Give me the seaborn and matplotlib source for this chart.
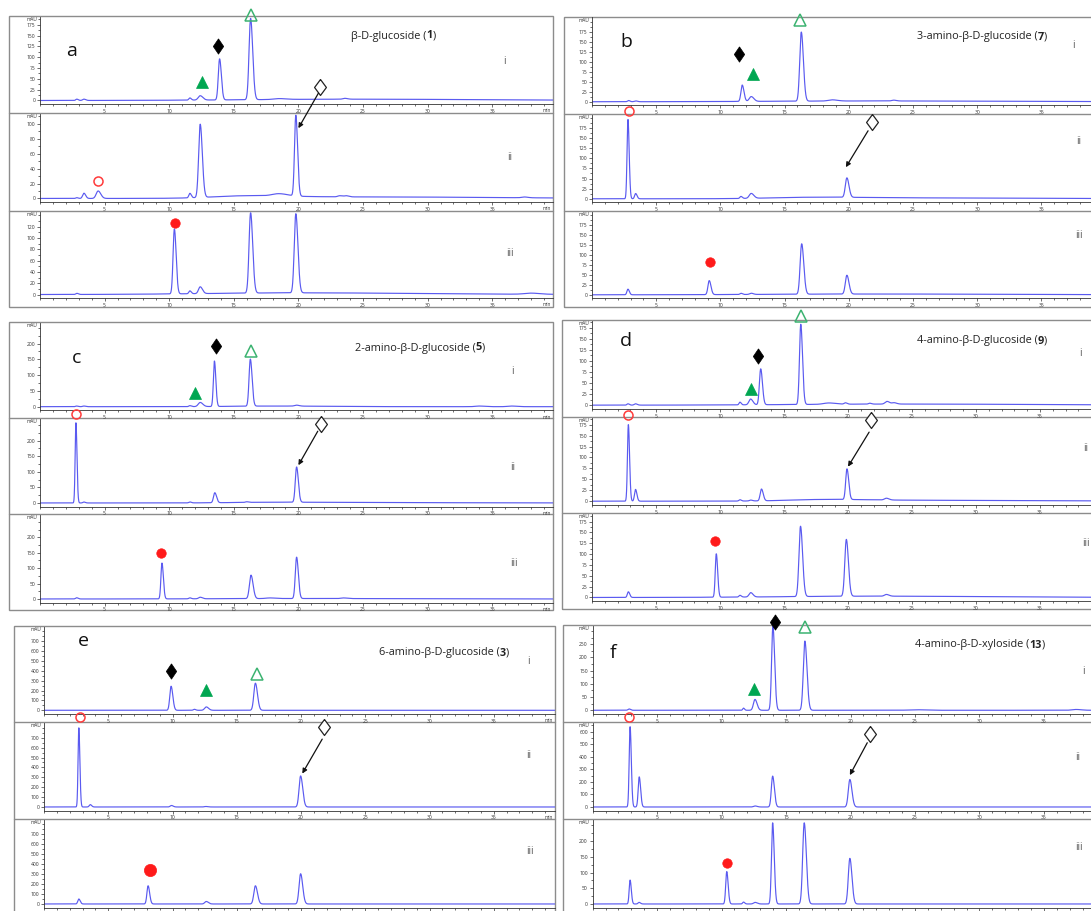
import numpy as np
import seaborn as sns
import matplotlib.pyplot as plt
from matplotlib.patches import Rectangle
from matplotlib.lines import Line2D
from matplotlib.ticker import FixedLocator, MultipleLocator

# HPLC traces, one list per trace: (retention time / min, height / mAU, width / min)
# rows i, ii, iii of each panel
a1 = [(2.85, 3, .08), (3.4, 3, .1), (11.6, 5, .08), (12.4, 10, .15), (13.9, 95, .1),
      (16.3, 188, .12), (18.5, 2, .4), (23.6, 2, .15), (24, 3, 8)]
a2 = [(2.85, 1, .08), (3.4, 7, .1), (4.5, 10, .15), (11.6, 6, .08), (12.4, 98, .12),
      (18.5, 3, .5), (19.8, 108, .1), (16, 3, 2.5), (26, 2, 7), (23.2, 1.5, .15),
      (23.7, 1.5, .15), (37.5, 1, .2)]
a3 = [(2.85, 2, .08), (10.4, 115, .1), (11.6, 5, .08), (12.4, 12, .13), (16.3, 142, .12),
      (19.8, 140, .12), (20, 3, 7), (38, 2, .5)]

b1 = [(2.85, 3, .08), (3.4, 2, .1), (11.7, 41, .1), (12.4, 12, .15), (16.3, 173, .12),
      (18.7, 3, .3), (23.5, 2, .15), (22, 2, 8)]
b2 = [(2.8, 196, .07), (3.4, 13, .08), (11.6, 5, .08), (12.4, 12, .15), (19.85, 48, .12),
      (17, 3, 3), (26, 2, 7)]
b3 = [(2.8, 14, .08), (9.13, 35, .1), (11.6, 3, .08), (12.4, 3, .12), (16.33, 126, .12),
      (19.85, 47, .12), (22, 2, 8)]

c1 = [(2.83, 2, .08), (3.4, 2, .1), (11.6, 3, .08), (12.4, 13, .15), (13.5, 144, .08),
      (16.28, 149, .1), (19.86, 3, .15), (18, 2, 3), (34, 2, .3), (36.5, 2, .3)]
c2 = [(2.78, 257, .06), (3.4, 3, .08), (11.6, 3, .08), (13.53, 32, .1), (16.0, 2, .1),
      (19.86, 113, .1), (18, 2, 3), (26, 1, 6)]
c3 = [(2.83, 4, .08), (9.44, 116, .08), (11.6, 3, .08), (12.4, 5, .12), (16.33, 76, .12),
      (19.86, 134, .1), (17.8, 2, .3), (23.5, 2, .2), (20, 1.5, 6)]

d1 = [(2.81, 3, .08), (3.4, 3, .1), (11.56, 6, .07), (12.39, 13, .13), (13.18, 81, .1),
      (16.31, 181, .1), (18.5, 3, .4), (19.8, 3, .1), (21.7, 2, .1), (23.05, 6, .15),
      (23.6, 3, .15), (24, 2.5, 8)]
d2 = [(2.84, 175, .07), (3.4, 27, .08), (11.56, 3, .08), (12.4, 2, .1), (13.24, 27, .1),
      (19.92, 70, .1), (23.0, 4, .15), (18, 3, 2.5), (26, 2, 7)]
d3 = [(2.84, 13, .08), (9.71, 100, .08), (11.56, 4, .08), (12.4, 10, .13), (16.29, 162, .12),
      (19.87, 131, .12), (23.0, 4, .15), (22, 3, 7)]

e1 = [(9.89, 243, .1), (11.7, 10, .08), (12.63, 34, .13), (16.45, 274, .12)]
e2 = [(2.71, 800, .06), (3.6, 24, .08), (9.92, 15, .1), (12.6, 5, .12), (19.97, 314, .12)]
e3 = [(2.71, 50, .08), (8.1, 183, .09), (12.63, 25, .12), (16.45, 183, .12), (19.97, 304, .12)]

f1 = [(2.82, 5, .08), (11.7, 8, .06), (12.59, 41, .12), (13.98, 318, .1), (16.46, 262, .12),
      (25, 2, .5), (37.5, 3, .3)]
f2 = [(2.9, 640, .07), (3.61, 240, .08), (12.6, 8, .12), (13.96, 246, .1), (19.95, 219, .12)]
f3 = [(2.9, 76, .07), (3.6, 5, .08), (10.4, 103, .08), (11.7, 6, .07), (12.6, 5, .12),
      (13.96, 258, .09), (16.41, 258, .12), (19.95, 145, .12)]

# y-axis top value and (tick step, last labelled tick) per row
a_ytop, a_ticks = [193, 113, 146], [(25, 175), (20, 100), (20, 120)]
b_ytop, b_ticks = [211, 207, 207], [(25, 175)] * 3
c_ytop, c_ticks = [266, 270, 272], [(50, 200)] * 3
d_ytop, d_ticks = [190, 191, 193], [(25, 175)] * 3
e_ytop, e_ticks = [845, 846, 845], [(100, 700)] * 3
f_ytop, f_ticks = [319, 667, 267], [(50, 250), (100, 600), (50, 200)]

# peak symbols: (row, symbol, time, mAU); arrow: (row, t, mAU) tail -> (row, t, mAU) head
a_marks = [(0, 'tri', 12.55, 43), (0, 'dia', 13.75, 127), (0, 'otri', 16.3, 198),
           (0, 'odia', 21.7, 32), (1, 'ocirc', 4.5, 24), (2, 'circ', 10.45, 127)]
a_arrow = ((0, 21.55, 17), (1, 20.0, 94))
b_marks = [(0, 'dia', 11.45, 120), (0, 'tri', 12.55, 70), (0, 'otri', 16.2, 205),
           (1, 'ocirc', 2.9, 217), (1, 'odia', 21.8, 189), (2, 'circ', 9.2, 81)]
b_arrow = ((1, 21.5, 168), (1, 19.77, 78))
c_marks = [(0, 'tri', 12.03, 44), (0, 'dia', 13.6, 193), (0, 'otri', 16.3, 175),
           (1, 'ocirc', 2.75, 284), (1, 'odia', 21.72, 252), (2, 'circ', 9.36, 150)]
c_arrow = ((1, 21.5, 230), (1, 20.0, 121))
d_marks = [(0, 'otri', 16.29, 202), (0, 'dia', 13.0, 111), (0, 'tri', 12.44, 37),
           (1, 'ocirc', 2.84, 198), (1, 'odia', 21.8, 185), (2, 'circ', 9.63, 129)]
d_arrow = ((1, 21.65, 158), (1, 20.0, 79))
e_marks = [(0, 'dia', 9.92, 396), (0, 'tri', 12.63, 203), (0, 'otri', 16.6, 362),
           (1, 'ocirc', 2.82, 910), (1, 'odia', 21.79, 805), (2, 'bigcirc', 8.27, 345)]
e_arrow = ((1, 21.65, 686), (1, 20.1, 338))
f_marks = [(0, 'dia', 14.14, 336), (0, 'otri', 16.46, 314), (0, 'tri', 12.5, 81),
           (1, 'ocirc', 2.85, 720), (1, 'odia', 21.48, 582), (2, 'circ', 10.4, 129)]
f_arrow = ((1, 21.3, 512), (1, 19.95, 254))

# titles: (text, compound number)
a_title = ("β-D-glucoside (", "1")
b_title = ("3-amino-β-D-glucoside (", "7")
c_title = ("2-amino-β-D-glucoside (", "5")
d_title = ("4-amino-β-D-glucoside (", "9")
e_title = ("6-amino-β-D-glucoside (", "3")
f_title = ("4-amino-β-D-xyloside (", "13")
roman = ["i", "ii", "iii"]

W, H = 1091, 911
sns.set_theme(style="white")
plt.rcParams['font.family'] = ['Open Sans', 'DejaVu Sans']

fig = plt.figure(figsize=(W / 100, H / 100), dpi=100)
fig.patch.set_facecolor('white')


def fx(x):
    return x / W


def fy(y):
    return 1 - y / H


t = np.linspace(0, 42, 8000)


def trace(peaks):
    y = np.zeros_like(t)
    for rt, h, s in peaks:
        sd = np.where(t < rt, s, s * 1.35)
        y += h * np.exp(-0.5 * ((t - rt) / sd) ** 2)
    return y


DIA = [(0, 1), (0.68, 0), (0, -1), (-0.68, 0), (0, 1)]
ODIA = [(0, 1), (0.74, 0), (0, -1), (-0.74, 0), (0, 1)]
STY = {
    'dia': dict(marker=DIA, ms=11, mfc='black', mec='black', mew=0.5),
    'odia': dict(marker=ODIA, ms=11.5, mfc='white', mec='#222222', mew=0.9),
    'tri': dict(marker='^', ms=8, mfc='#00a651', mec='#00a651', mew=0.5),
    'otri': dict(marker='^', ms=8, mfc='none', mec='#3cb371', mew=1.1),
    'ocirc': dict(marker='o', ms=6.5, mfc='none', mec='#ff3b3b', mew=1.1),
    'circ': dict(marker='o', ms=6.8, mfc='#ff1a1a', mec='#ff1a1a', mew=0.5),
    'bigcirc': dict(marker='o', ms=8.8, mfc='#ff1a1a', mec='#ff1a1a', mew=0.5),
}
GREY = '#8c8c8c'
LINE = '#5a5af0'


def draw_panel(frame, rows, yaxis, ppm, off, traces, ytops, ticks, marks, arrow,
               letter, letter_xy, title, title_xy, roman_xy):
    x0, y0, x1, y1 = frame
    fig.add_artist(Rectangle((fx(x0), fy(y1)), fx(x1) - fx(x0), fy(y0) - fy(y1),
                             fill=False, ec=GREY, lw=1.0, transform=fig.transFigure, zorder=-1))
    for yb in rows[1:3]:
        fig.add_artist(Line2D([fx(x0), fx(x1)], [fy(yb), fy(yb)], color=GREY, lw=1.0,
                              transform=fig.transFigure, zorder=-1))
    axes = []
    for i in range(3):
        top = rows[i] + 1
        bot = rows[i + 1] - off
        ax = fig.add_axes([fx(yaxis), fy(bot), fx(x1) - fx(yaxis), (bot - top) / H])
        ax.set_facecolor('none')
        xmax = (x1 - yaxis) / ppm
        sns.lineplot(x=t, y=trace(traces[i]), ax=ax, color=LINE, linewidth=0.85,
                     estimator=None, sort=False)
        ax.set_xlim(0, xmax)
        ax.set_ylim(-0.042 * ytops[i], ytops[i])
        ax.set(xlabel='', ylabel='')
        for s in ['top', 'right']:
            ax.spines[s].set_visible(False)
        for s in ['left', 'bottom']:
            ax.spines[s].set_color('#333333')
            ax.spines[s].set_linewidth(0.6)
        xt = list(range(5, 40, 5))
        ax.xaxis.set_major_locator(FixedLocator(xt))
        ax.set_xticklabels([str(v) for v in xt])
        ax.xaxis.set_minor_locator(MultipleLocator(1))
        step, tmax = ticks[i]
        yt = list(range(0, tmax + 1, step))
        ax.yaxis.set_major_locator(FixedLocator(yt))
        ax.set_yticklabels([str(v) for v in yt])
        ax.yaxis.set_minor_locator(MultipleLocator(step / 2))
        show_x = bot + 8 < H
        ax.tick_params(which='both', direction='out', colors='#333333', labelsize=3.6,
                       pad=1, width=0.5, left=True, bottom=True, labelbottom=show_x)
        ax.tick_params(which='major', length=2.5)
        ax.tick_params(which='minor', length=1.5)
        ax.text(-0.006, 1.0, 'mAU', transform=ax.transAxes, ha='right', va='top',
                fontsize=3.4, color='#333333')
        if show_x and x1 < W:
            ax.annotate('min', xy=((x1 - yaxis - 6) / ppm, 0),
                        xycoords=('data', 'axes fraction'), xytext=(0, -3.2),
                        textcoords='offset points', ha='center', va='top',
                        fontsize=3.4, color='#333333', annotation_clip=False)
        axes.append(ax)

    for row, kind, tm, v in marks:
        axes[row].plot([tm], [v], ls='none', clip_on=False, zorder=6, **STY[kind])

    (r0, t0, v0), (r1, t1, v1) = arrow
    axes[r1].annotate('', xy=(t1, v1), xycoords='data', xytext=(t0, v0),
                      textcoords=axes[r0].transData, annotation_clip=False,
                      arrowprops=dict(arrowstyle='-|>', color='#111111', lw=0.9,
                                      mutation_scale=7, shrinkA=0, shrinkB=0))

    fig.text(fx(letter_xy[0]), fy(letter_xy[1]), letter, fontsize=14, ha='center',
             va='center', color='#111111')
    txt, num = title
    t_a = fig.text(fx(title_xy[0]), fy(title_xy[1]), txt, fontsize=7.8, ha='left',
                   va='center', color='#222222')
    t_b = axes[0].annotate(num, xy=(1, 0), xycoords=t_a, ha='left', va='bottom',
                           fontsize=7.8, fontweight='bold', color='#222222',
                           annotation_clip=False)
    axes[0].annotate(')', xy=(1, 0), xycoords=t_b, ha='left', va='bottom',
                     fontsize=7.8, color='#222222', annotation_clip=False)
    for r, (rx, ry) in zip(roman, roman_xy):
        fig.text(fx(rx), fy(ry), r, fontsize=7, ha='center', va='center', color='#555555')


draw_panel((9, 16, 553, 307), [16, 113, 211, 307], 40, 12.92, 9, [a1, a2, a3],
           a_ytop, a_ticks, a_marks, a_arrow, 'a', (72, 51), a_title, (351, 36),
           [(504, 62), (510, 157), (510, 253)])
draw_panel((564, 16.5, 1100, 307), [16.5, 114, 211, 307], 592, 12.84, 8.7, [b1, b2, b3],
           b_ytop, b_ticks, b_marks, b_arrow, 'b', (626, 42), b_title, (917, 37),
           [(1073, 46), (1079, 141), (1079, 236)])
draw_panel((9, 321.7, 553, 610), [321.7, 417.7, 514, 610], 40, 12.92, 7.5, [c1, c2, c3],
           c_ytop, c_ticks, c_marks, c_arrow, 'c', (77, 358), c_title, (355, 348),
           [(512, 372), (513, 467), (514, 564)])
draw_panel((562, 320, 1100, 609), [320, 416.7, 512.7, 609], 592, 12.8, 8, [d1, d2, d3],
           d_ytop, d_ticks, d_marks, d_arrow, 'd', (626, 341), d_title, (917, 341),
           [(1080, 354), (1086, 448), (1086, 544)])
draw_panel((13.6, 625.7, 555, 916), [625.7, 722.3, 819, 916], 44, 12.85, 8.5, [e1, e2, e3],
           e_ytop, e_ticks, e_marks, e_arrow, 'e', (83, 641), e_title, (379, 653),
           [(528, 662), (529, 756), (530, 851)])
draw_panel((562.7, 625, 1100, 916), [625, 722.3, 819, 916], 592.7, 12.89, 8.5, [f1, f2, f3],
           f_ytop, f_ticks, f_marks, f_arrow, 'f', (613, 653), f_title, (915, 645),
           [(1083, 672), (1078, 757), (1079, 847)])

fig.savefig('out.png', dpi=100, facecolor='white')
